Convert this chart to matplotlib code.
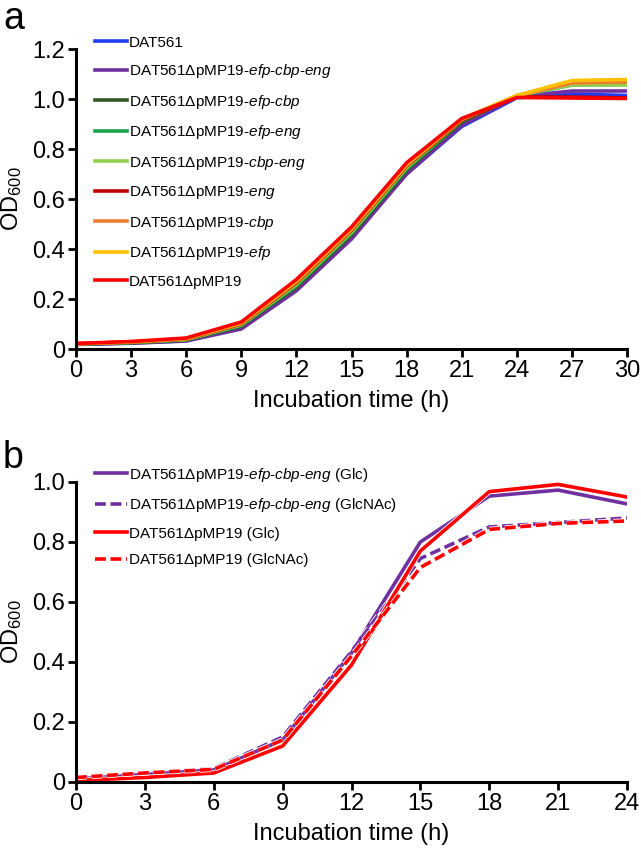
import matplotlib
matplotlib.use("Agg")
import matplotlib.pyplot as plt
import matplotlib.patheffects as pe

# ---------------- data ----------------
time_a = [0, 3, 6, 9, 12, 15, 18, 21, 24, 27, 30]
labels_a = ["DAT561", "DAT561\u0394pMP19-$\\it{efp}$-$\\it{cbp}$-$\\it{eng}$",
            "DAT561\u0394pMP19-$\\it{efp}$-$\\it{cbp}$", "DAT561\u0394pMP19-$\\it{efp}$-$\\it{eng}$",
            "DAT561\u0394pMP19-$\\it{cbp}$-$\\it{eng}$", "DAT561\u0394pMP19-$\\it{eng}$",
            "DAT561\u0394pMP19-$\\it{cbp}$", "DAT561\u0394pMP19-$\\it{efp}$", "DAT561\u0394pMP19"]
colors_a = ["#1f3cf0", "#7030a0", "#375623", "#1aa54a", "#92d050", "#c00000", "#ed7d31", "#ffc000", "#ff0000"]
od_dat561 = [0.019, 0.024, 0.033, 0.086, 0.240, 0.448, 0.700, 0.890, 1.005, 1.020, 1.014]
od_ecbe = [0.018, 0.023, 0.032, 0.080, 0.233, 0.440, 0.700, 0.895, 1.010, 1.032, 1.032]
od_efcb = [0.020, 0.025, 0.036, 0.091, 0.247, 0.456, 0.714, 0.908, 1.012, 1.070, 1.076]
od_efen = [0.020, 0.026, 0.037, 0.094, 0.253, 0.462, 0.720, 0.912, 1.012, 1.056, 1.058]
od_cben = [0.021, 0.027, 0.038, 0.097, 0.259, 0.468, 0.726, 0.918, 1.014, 1.056, 1.056]
od_eng = [0.021, 0.028, 0.040, 0.100, 0.265, 0.475, 0.732, 0.915, 1.008, 1.008, 1.004]
od_cbp = [0.021, 0.028, 0.041, 0.102, 0.268, 0.478, 0.735, 0.918, 1.012, 1.064, 1.068]
od_efp = [0.021, 0.029, 0.042, 0.104, 0.272, 0.482, 0.738, 0.920, 1.014, 1.074, 1.078]
od_pmp19 = [0.022, 0.030, 0.044, 0.108, 0.278, 0.488, 0.745, 0.922, 1.006, 1.004, 1.002]
series_a = [od_dat561, od_ecbe, od_efcb, od_efen, od_cben, od_eng, od_cbp, od_efp, od_pmp19]

time_b = [0, 3, 6, 9, 12, 15, 18, 21, 24]
labels_b = ["DAT561\u0394pMP19-$\\it{efp}$-$\\it{cbp}$-$\\it{eng}$ (Glc)",
            "DAT561\u0394pMP19-$\\it{efp}$-$\\it{cbp}$-$\\it{eng}$ (GlcNAc)",
            "DAT561\u0394pMP19 (Glc)", "DAT561\u0394pMP19 (GlcNAc)"]
colors_b = ["#7030a0", "#7030a0", "#ff0000", "#ff0000"]
styles_b = ["-", "--", "-", "--"]
od_ecbe_glc = [0.010, 0.025, 0.040, 0.140, 0.430, 0.800, 0.953, 0.973, 0.927]
od_ecbe_nac = [0.015, 0.030, 0.045, 0.150, 0.435, 0.745, 0.850, 0.865, 0.880]
od_pmp_glc = [0.005, 0.015, 0.030, 0.120, 0.390, 0.770, 0.968, 0.992, 0.950]
od_pmp_nac = [0.015, 0.030, 0.042, 0.140, 0.420, 0.715, 0.842, 0.862, 0.870]
series_b = [od_ecbe_glc, od_ecbe_nac, od_pmp_glc, od_pmp_nac]

plt.rcParams['font.family'] = ['Liberation Sans', 'DejaVu Sans']
plt.rcParams['mathtext.fontset'] = 'custom'
plt.rcParams['mathtext.it'] = 'Liberation Sans:italic'
plt.rcParams['mathtext.rm'] = 'Liberation Sans'

fig = plt.figure(figsize=(6.41, 8.49), dpi=100)
ax_a = fig.add_axes([76/641, 1-349/849, 551/641, 300/849])
ax_b = fig.add_axes([76/641, 1-782/849, 551/641, 300/849])

stroke = [pe.Stroke(linewidth=3.8, foreground='white'), pe.Normal()]

for ys, c, lab in zip(series_a, colors_a, labels_a):
    ax_a.plot(time_a, ys, color=c, lw=2.6, label=lab)
for ys, c, ls, lab in zip(series_b, colors_b, styles_b, labels_b):
    ax_b.plot(time_b, ys, color=c, lw=2.6, ls=ls, dashes=(3, 1.3) if ls == '--' else (None, None),
              label=lab, path_effects=stroke)

def style(ax, xmax, xticks, ymax, yticks):
    ax.set_xlim(0, xmax)
    ax.set_ylim(0, ymax)
    ax.set_xticks(xticks)
    ax.set_yticks(yticks)
    ax.set_yticklabels(["0" if v == 0 else f"{v:.1f}" for v in yticks])
    for s in ['top', 'right']:
        ax.spines[s].set_visible(False)
    for s in ['left', 'bottom']:
        ax.spines[s].set_linewidth(2.2)
    ax.tick_params(direction='out', length=6, width=2, labelsize=17, pad=2)
    ax.set_xlabel("Incubation time (h)", fontsize=17, labelpad=6)
    ax.set_ylabel("OD$_{600}$", fontsize=17, labelpad=6)
    ax.set_facecolor('none')

style(ax_a, 30, time_a, 1.2, [0, 0.2, 0.4, 0.6, 0.8, 1.0, 1.2])
style(ax_b, 24, time_b, 1.0, [0, 0.2, 0.4, 0.6, 0.8, 1.0])

leg_kw = dict(frameon=False, fontsize=11, handlelength=2.1, handletextpad=0.1,
              borderaxespad=0, labelspacing=0.82)
ax_a.legend(loc='upper left', bbox_to_anchor=(13/551, 1.065), **leg_kw)
ax_b.legend(loc='upper left', bbox_to_anchor=(13/551, 1.075), **leg_kw)

fig.text(3/641, 1-1/849, "a", fontsize=27, va='top', ha='left')
fig.text(3/641, 1-440/849, "b", fontsize=27, va='top', ha='left')

fig.savefig("out.png", dpi=100)
